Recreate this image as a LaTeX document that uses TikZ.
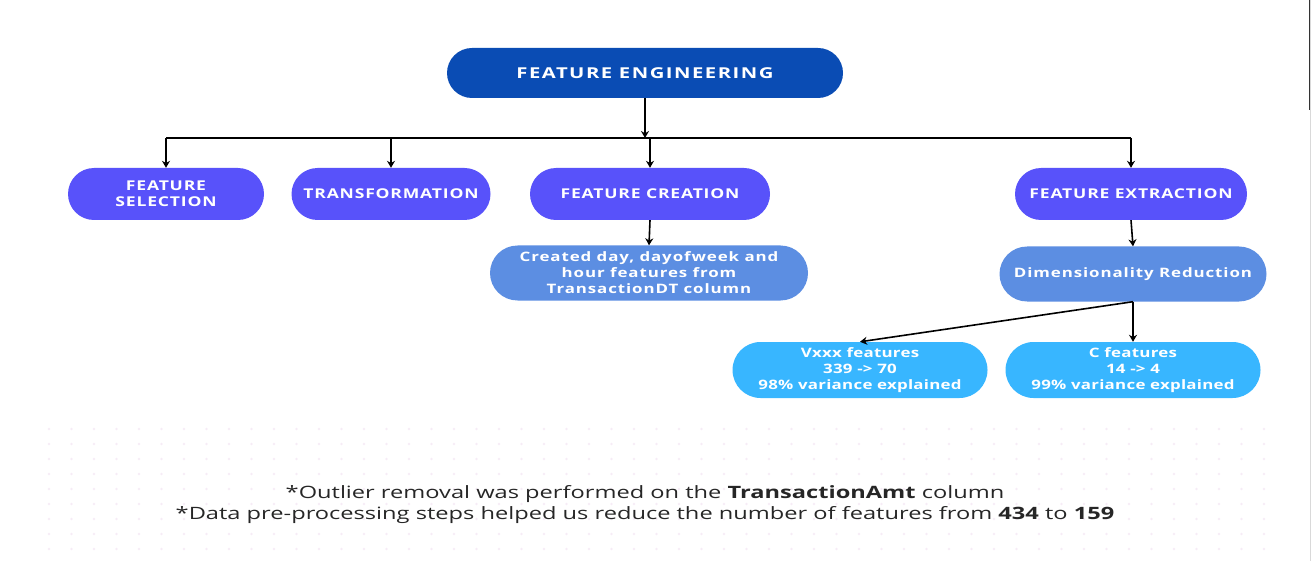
\documentclass[tikz,border=0pt]{standalone}
\usepackage{fontspec}
\setmainfont{Open Sans}
\usetikzlibrary{arrows.meta,shapes.misc}
\definecolor{febg}{RGB}{10,76,180}
\definecolor{stepbg}{RGB}{88,82,250}
\definecolor{midbg}{RGB}{92,142,226}
\definecolor{leafbg}{RGB}{56,182,255}
\definecolor{dotc}{RGB}{246,236,246}
\newcommand{\spaced}[3]{\fontsize{#1}{16}\selectfont\addfontfeatures{FakeStretch=#2,LetterSpace=#3}}
\tikzset{
  pill/.style={rounded rectangle, inner sep=0pt, text=white, align=center},
  arr/.style={-{Stealth[length=7pt,width=8pt]}, line width=1.6pt},
  bar/.style={line width=1.6pt}
}
\begin{document}
\begin{tikzpicture}[x=1pt,y=-1pt]
\useasboundingbox (0,0) rectangle (1311,561);
\foreach \i in {0,...,54}
  \foreach \j in {0,...,8}
    \fill[dotc] (49+\i*22.5,429+\j*15) circle (1.4);
\draw[black!15, line width=1pt] (1310,0) -- (1310,561);
\draw[black!80, line width=1.5pt] (1309.5,0) -- (1309.5,110);
\node[pill, fill=febg, minimum width=396, minimum height=50, font=\bfseries\spaced{15}{1.35}{10}] (fe) at (645,73) {FEATURE ENGINEERING};
\node[pill, fill=stepbg, minimum width=196, minimum height=52, font=\bfseries\spaced{13.5}{1.3}{6}] (fs) at (166,194) {FEATURE\\SELECTION};
\node[pill, fill=stepbg, minimum width=199, minimum height=52, font=\bfseries\spaced{13.5}{1.3}{6}] (tr) at (391,194) {TRANSFORMATION};
\node[pill, fill=stepbg, minimum width=240, minimum height=52, font=\bfseries\spaced{13.5}{1.3}{6}] (fc) at (650,194) {FEATURE CREATION};
\node[pill, fill=stepbg, minimum width=232, minimum height=52, font=\bfseries\spaced{13.5}{1.3}{6}] (fx) at (1131,194) {FEATURE EXTRACTION};
\node[pill, fill=midbg, minimum width=318, minimum height=55, font=\bfseries\spaced{13}{1.3}{7}] (cd) at (649,273) {Created day, dayofweek and\\hour features from\\TransactionDT column};
\node[pill, fill=midbg, minimum width=267, minimum height=55, font=\bfseries\spaced{13}{1.3}{7}] (dr) at (1133,274) {Dimensionality Reduction};
\node[pill, fill=leafbg, minimum width=255, minimum height=56, font=\bfseries\spaced{13}{1.3}{2}] (vx) at (860,370) {Vxxx features\\339 -> 70\\98\% variance explained};
\node[pill, fill=leafbg, minimum width=255, minimum height=56, font=\bfseries\spaced{13}{1.3}{2}] (cf) at (1133,370) {C features\\14 -> 4\\99\% variance explained};
\coordinate (hub) at (645,138);
\draw[arr] (fe.south) -- (hub);
\draw[bar] (fs.north |- hub) -- (fx.north |- hub);
\draw[arr] (fs.north |- hub) -- (fs.north);
\draw[arr] (tr.north |- hub) -- (tr.north);
\draw[arr] (fc.north |- hub) -- (fc.north);
\draw[arr] (fx.north |- hub) -- (fx.north);
\draw[arr] (fc.south) -- (cd.north);
\draw[arr] (fx.south) -- (dr.north);
\draw[arr] (dr.south) -- (vx.north);
\draw[arr] (dr.south) -- (cf.north);
\node[font=\fontsize{17}{20}\selectfont, text=black!85] (note1) at (645,494) {\scalebox{1.39}[1]{*Outlier removal was performed on the \textbf{TransactionAmt} column}};
\node[font=\fontsize{17}{20}\selectfont, text=black!85] (note2) at (645,515) {\scalebox{1.39}[1]{*Data pre-processing steps helped us reduce the number of features from \textbf{434} to \textbf{159}}};
\end{tikzpicture}
\end{document}
